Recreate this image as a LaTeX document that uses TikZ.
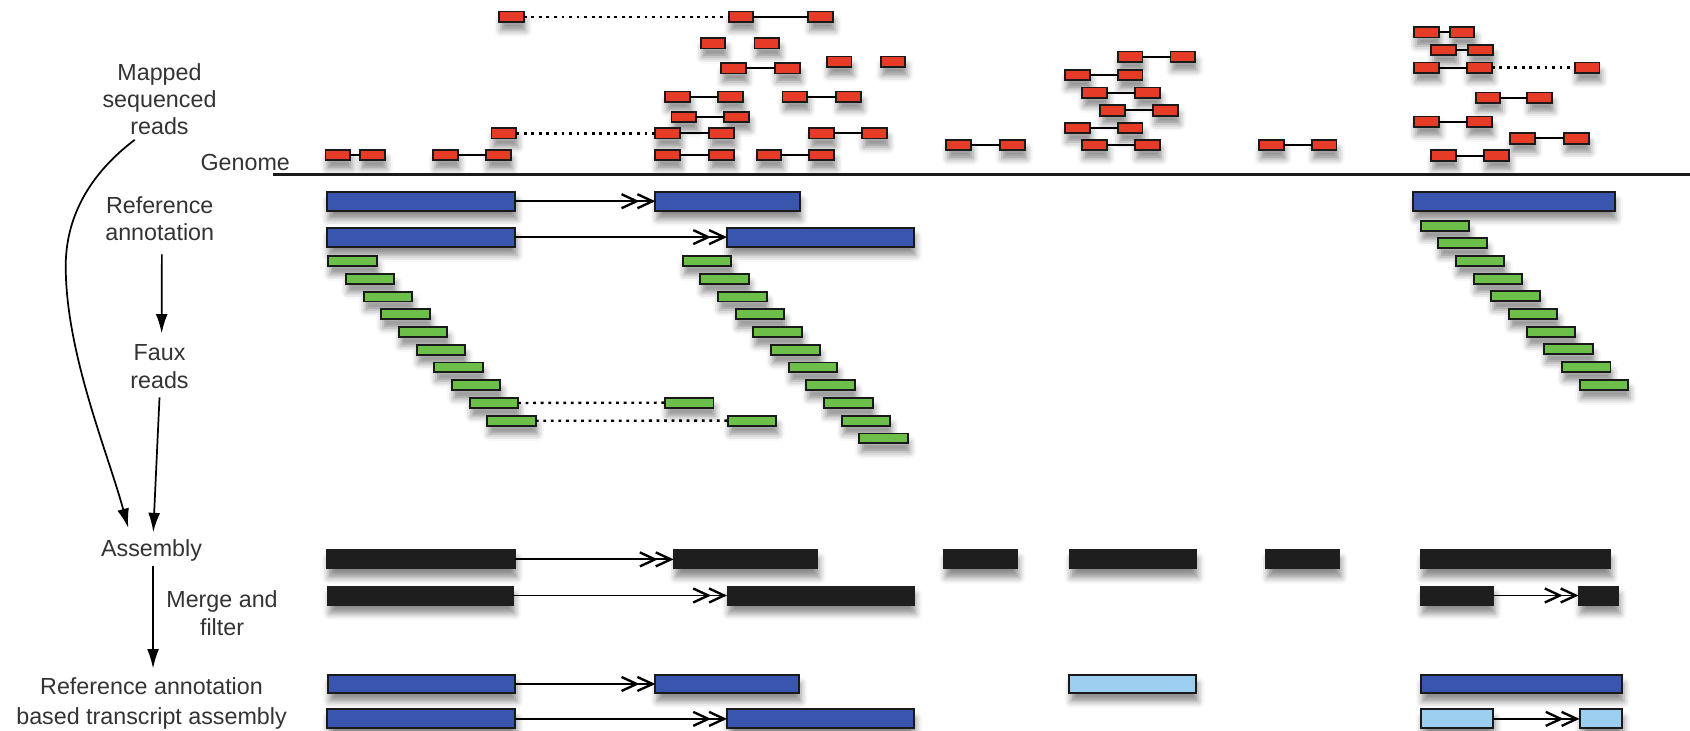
\documentclass[tikz,border=0pt]{standalone}
\usepackage{fontspec}
\setmainfont{Liberation Sans}
\usetikzlibrary{arrows.meta,shadows.blur}
\definecolor{redfill}{HTML}{E63B26}
\definecolor{bluefill}{HTML}{3A55AE}
\definecolor{greenfill}{HTML}{6CC04A}
\definecolor{lightbluefill}{HTML}{9CCEF0}
\definecolor{boxblack}{HTML}{1E1E1E}
\definecolor{edgecol}{HTML}{1A1A1A}
\definecolor{labelcol}{HTML}{333333}
\tikzset{
  shadowed/.style={blur shadow={shadow xshift=0.8pt, shadow yshift=-4pt, shadow blur radius=3pt, shadow opacity=45}},
  readbase/.style={draw=edgecol, line width=0.9pt, inner sep=0pt, outer sep=0pt, anchor=west, shadowed},
  redread/.style={readbase, fill=redfill, minimum width=11.5pt, minimum height=4.8pt},
  greenread/.style={readbase, fill=greenfill, minimum width=22.5pt, minimum height=4.6pt},
  bluebox/.style={readbase, fill=bluefill, minimum height=8.8pt},
  lightbox/.style={readbase, fill=lightbluefill, minimum height=8.3pt},
  blackbox/.style={readbase, draw=boxblack, line width=0.4pt, fill=boxblack, minimum height=8.8pt},
  intron/.style={line width=0.9pt},
  junction/.style={line width=0.85pt, -{Straight Barb[length=7pt,width=6.5pt,line width=1.1pt,sep=-1.5pt] Straight Barb[length=7pt,width=6.5pt,line width=1.1pt]}},
  gapline/.style={line width=1.1pt, dash pattern=on 1.3pt off 2.2pt},
  lbl/.style={text=labelcol, align=center, inner sep=0pt, font=\fontsize{10.8pt}{12.7pt}\selectfont},
  flow/.style={line width=0.8pt, -{Latex[length=9pt,width=5.5pt]}},
}
\newcommand{\RedRead}[3]{\node[redread] (#1) at (#2,#3) {};}
\begin{document}
\begin{tikzpicture}[x=0.5pt,y=-0.5pt]
\useasboundingbox (0,0) rectangle (1568,678);

% ---------------- labels
\node[lbl] (mapped) at (148,92) {Mapped\\sequenced\\reads};
\node[lbl] (genome) at (227.5,150.6) {Genome};
\node[lbl] (refann) at (148.2,203) {Reference\\annotation};
\node[lbl] (faux) at (148,340) {Faux\\reads};
\node[lbl] (assembly) at (140.6,510.3) {Assembly};
\node[lbl] (merge) at (206,569) {Merge and\\filter};
\node[lbl, font=\fontsize{10.8pt}{13.9pt}\selectfont] (rabased) at (140.6,652.6) {Reference annotation\\based transcript assembly};

% ---------------- genome line
\coordinate (gstart) at (253,162);
\coordinate (gend) at (1568,162);
\draw[line width=1.2pt, edgecol] (gstart) -- (gend);

% ---------------- flow arrows
\draw[flow] ([xshift=-11.5pt,yshift=-2pt]mapped.south) .. controls (85,160) and (60,200) .. (61,250) .. controls (62,330) and (100,420) .. ([xshift=-10.8pt,yshift=5pt]assembly.north);
\draw[flow] ([xshift=1pt,yshift=-6pt]refann.south) -- ([xshift=1pt,yshift=5pt]faux.north);
\draw[flow] ([xshift=0pt,yshift=-4pt]faux.south) -- ([xshift=0.8pt,yshift=3pt]assembly.north);
\draw[flow] ([xshift=0.7pt,yshift=-2pt]assembly.south) -- ([xshift=0.7pt,yshift=4pt]rabased.north);

% ---------------- red mapped reads
\RedRead{r1}{463}{15.5}\RedRead{r2}{676}{15.5}\RedRead{r3}{750}{15.5}
\RedRead{r4}{650}{40.2}\RedRead{r5}{700}{40.2}
\RedRead{r6}{767}{57.2}\RedRead{r7}{817}{57.2}
\RedRead{r8}{669}{63.4}\RedRead{r9}{719}{63.4}
\RedRead{r10}{617}{89.7}\RedRead{r11}{666}{89.7}
\RedRead{r12}{726}{89.7}\RedRead{r13}{776}{89.7}
\RedRead{r14}{623}{108.3}\RedRead{r15}{672}{108.3}
\RedRead{r16}{456}{123.7}\RedRead{r17}{608}{123.7}\RedRead{r18}{658}{123.7}
\RedRead{r19}{751}{123.7}\RedRead{r20}{800}{123.7}
\RedRead{r21}{302}{143.8}\RedRead{r22}{334}{143.8}
\RedRead{r23}{402}{143.8}\RedRead{r24}{451}{143.8}
\RedRead{r25}{608}{143.8}\RedRead{r26}{658}{143.8}
\RedRead{r27}{702}{143.8}\RedRead{r28}{751}{143.8}
\RedRead{r29}{1312}{30}\RedRead{r30}{1345}{30}
\RedRead{r31}{1328}{46.4}\RedRead{r32}{1362}{46.4}
\RedRead{r33}{1037}{52.6}\RedRead{r34}{1086}{52.6}
\RedRead{r35}{1312}{62.8}\RedRead{r36}{1361}{62.8}\RedRead{r37}{1461}{62.8}
\RedRead{r38}{988}{69.6}\RedRead{r39}{1037}{69.6}
\RedRead{r40}{1004}{86}\RedRead{r41}{1053}{86}
\RedRead{r42}{1369}{90.6}\RedRead{r43}{1417}{90.6}
\RedRead{r44}{1021}{102.4}\RedRead{r45}{1070}{102.4}
\RedRead{r46}{1312}{112.9}\RedRead{r47}{1361}{112.9}
\RedRead{r48}{988}{119}\RedRead{r49}{1037}{119}
\RedRead{r50}{1401}{128.4}\RedRead{r51}{1451}{128.4}
\RedRead{r52}{878}{134.5}\RedRead{r53}{928}{134.5}
\RedRead{r54}{1004}{134.5}\RedRead{r55}{1053}{134.5}
\RedRead{r56}{1168}{134.5}\RedRead{r57}{1217}{134.5}
\RedRead{r58}{1328}{144.4}\RedRead{r59}{1377}{144.4}

\foreach \a/\b in {r2/r3,r8/r9,r10/r11,r12/r13,r14/r15,r17/r18,r19/r20,r21/r22,r23/r24,r25/r26,r27/r28,
  r29/r30,r31/r32,r33/r34,r35/r36,r38/r39,r40/r41,r42/r43,r44/r45,r46/r47,r48/r49,r50/r51,r52/r53,r54/r55,r56/r57,r58/r59}
  \draw[intron] (\a.east) -- (\b.west);
\foreach \a/\b in {r1/r2,r16/r17,r36/r37}
  \draw[gapline] (\a.east) -- (\b.west);

% ---------------- reference annotation
\node[bluebox, minimum width=87.5pt] (ra1a) at (303,186.7) {};
\node[bluebox, minimum width=67pt] (ra1b) at (608,186.7) {};
\node[bluebox, minimum width=87.5pt] (ra2a) at (303,220) {};
\node[bluebox, minimum width=86.75pt] (ra2b) at (674.5,220) {};
\node[bluebox, minimum width=93.5pt] (ra3) at (1311,186.7) {};
\draw[junction] (ra1a.east) -- (ra1b.west);
\draw[junction] (ra2a.east) -- (ra2b.west);

% ---------------- faux reads
\foreach \i in {0,...,9}
  \node[greenread] (gl\i) at ({304.5+16.4*\i},{242.2+16.46*\i}) {};
\foreach \i in {0,...,10}
  \node[greenread] (gm\i) at ({633.4+16.4*\i},{242.2+16.46*\i}) {};
\foreach \i in {0,...,9}
  \node[greenread] (gr\i) at ({1318+16.4*\i},{209.4+16.4*\i}) {};
\node[greenread] (ge1) at (617,373.6) {};
\node[greenread] (ge2) at (675.4,390.3) {};
\draw[gapline] (gl8.east) -- (ge1.west);
\draw[gapline] (gl9.east) -- (ge2.west);

% ---------------- assembly
\node[blackbox, minimum width=87.5pt] (as1) at (303,519) {};
\node[blackbox, minimum width=66.8pt] (as2) at (625,519) {};
\node[blackbox, minimum width=34.2pt] (as3) at (875.5,519) {};
\node[blackbox, minimum width=59pt] (as4) at (992,519) {};
\node[blackbox, minimum width=34.2pt] (as5) at (1174.5,519) {};
\node[blackbox, minimum width=88pt] (as6) at (1318,519) {};
\draw[junction] (as1.east) -- (as2.west);

\node[blackbox, minimum width=86pt] (mf1) at (304,552.5) {};
\node[blackbox, minimum width=86.75pt] (mf2) at (674.5,552.5) {};
\node[blackbox, minimum width=33.75pt] (mf3) at (1318,552.5) {};
\node[blackbox, minimum width=18.45pt] (mf4) at (1464.6,552.5) {};
\draw[junction] (mf1.east) -- (mf2.west);
\draw[junction] (mf3.east) -- (mf4.west);

% ---------------- reference annotation based transcript assembly
\node[bluebox, minimum height=8.2pt, minimum width=87pt] (rb1) at (304,634.6) {};
\node[bluebox, minimum height=8.2pt, minimum width=66.75pt] (rb2) at (608,634.6) {};
\node[lightbox, minimum width=59pt] (rb3) at (992,634.6) {};
\node[bluebox, minimum height=8.2pt, minimum width=93.5pt] (rb4) at (1318,634.6) {};
\draw[junction] (rb1.east) -- (rb2.west);

\node[bluebox, minimum width=87.5pt] (rc1) at (303,667) {};
\node[bluebox, minimum width=86.75pt] (rc2) at (674.5,667) {};
\node[lightbox, minimum height=8.8pt, minimum width=33.75pt] (rc3) at (1318,667) {};
\node[lightbox, minimum height=8.8pt, minimum width=19.75pt] (rc4) at (1465.5,667) {};
\draw[junction] (rc1.east) -- (rc2.west);
\draw[junction] (rc3.east) -- (rc4.west);
\end{tikzpicture}
\end{document}
